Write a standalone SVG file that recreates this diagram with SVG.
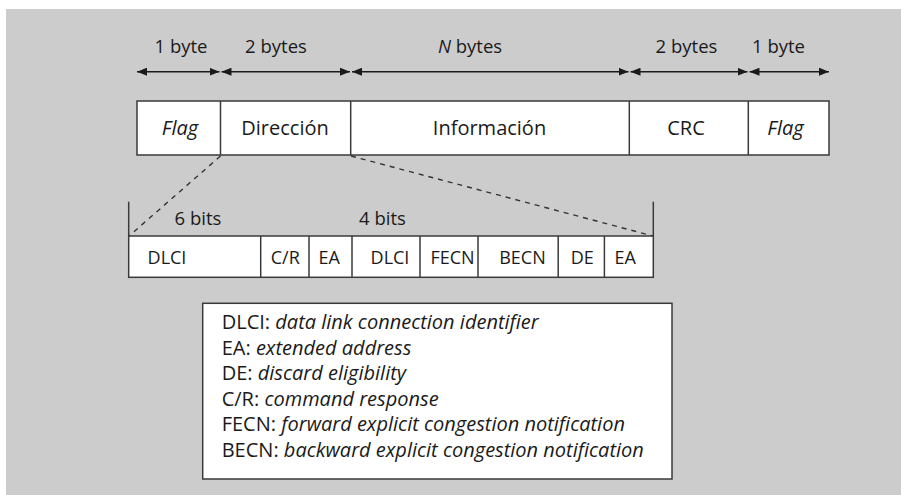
<svg xmlns="http://www.w3.org/2000/svg" width="901" height="495" viewBox="0 0 901 495">
  <defs>
    <style>
      text { font-family: "Open Sans", "Noto Sans", "Liberation Sans", sans-serif; fill: #1a1a1a; }
      .lbl { font-size: 18.5px; text-anchor: middle; }
      .cell { font-size: 18px; text-anchor: middle; }
      .big { font-size: 20px; }
      .leg { font-size: 20px; }
      .it { font-style: italic; }
      .box { fill: #ffffff; stroke: #3a3a3a; stroke-width: 1.5; }
      .div { stroke: #3a3a3a; stroke-width: 1.5; fill: none; }
      .dim { stroke: #1a1a1a; stroke-width: 1.4; fill: none; marker-start: url(#ah); marker-end: url(#ah); }
      .dash { stroke: #333333; stroke-width: 1.4; stroke-dasharray: 5 5; fill: none; }
    </style>
    <marker id="ah" viewBox="0 0 10 8" refX="10" refY="4" markerWidth="10" markerHeight="8" markerUnits="userSpaceOnUse" orient="auto-start-reverse">
      <path d="M0,0 L10,4 L0,8 Z" fill="#1a1a1a"/>
    </marker>
  </defs>

  <rect x="6" y="9" width="895" height="486" fill="#cccccc"/>

  <g id="dimensions">
    <line class="dim" x1="137" y1="71.7" x2="219.5" y2="71.7"/>
    <line class="dim" x1="221.5" y1="71.7" x2="350" y2="71.7"/>
    <line class="dim" x1="352" y1="71.7" x2="628.5" y2="71.7"/>
    <line class="dim" x1="630.5" y1="71.7" x2="747.5" y2="71.7"/>
    <line class="dim" x1="749.5" y1="71.7" x2="829" y2="71.7"/>
    <text class="lbl" x="181" y="53">1 byte</text>
    <text class="lbl" x="276" y="53">2 bytes</text>
    <text class="lbl" x="470" y="53"><tspan class="it">N</tspan> bytes</text>
    <text class="lbl" x="686.5" y="53">2 bytes</text>
    <text class="lbl" x="778.5" y="53">1 byte</text>
  </g>

  <g id="frame">
    <rect class="box" x="137" y="101" width="692" height="54"/>
    <line class="div" x1="220.5" y1="101" x2="220.5" y2="155"/>
    <line class="div" x1="350.7" y1="101" x2="350.7" y2="155"/>
    <line class="div" x1="629.3" y1="101" x2="629.3" y2="155"/>
    <line class="div" x1="748.3" y1="101" x2="748.3" y2="155"/>
    <text class="cell big it" x="180" y="135">Flag</text>
    <text class="cell big" x="285" y="135">Dirección</text>
    <text class="cell big" x="489.5" y="135">Información</text>
    <text class="cell big" x="686" y="135">CRC</text>
    <text class="cell big it" x="785.5" y="135">Flag</text>
  </g>

  <g id="connectors">
    <line class="dash" x1="220.5" y1="156" x2="129" y2="236"/>
    <line class="dash" x1="351" y1="156" x2="653" y2="236"/>
  </g>

  <g id="address">
    <line class="div" x1="128.7" y1="201.7" x2="128.7" y2="236"/>
    <line class="div" x1="653.3" y1="201.7" x2="653.3" y2="236"/>
    <rect class="box" x="128.7" y="236" width="524.6" height="41.3"/>
    <line class="div" x1="260.7" y1="236" x2="260.7" y2="277.3"/>
    <line class="div" x1="309" y1="236" x2="309" y2="277.3"/>
    <line class="div" x1="352" y1="236" x2="352" y2="277.3"/>
    <line class="div" x1="420" y1="236" x2="420" y2="277.3"/>
    <line class="div" x1="478" y1="236" x2="478" y2="277.3"/>
    <line class="div" x1="558.2" y1="236" x2="558.2" y2="277.3"/>
    <line class="div" x1="604.4" y1="236" x2="604.4" y2="277.3"/>
    <text class="lbl" x="198" y="225">6 bits</text>
    <text class="lbl" x="382.5" y="225">4 bits</text>
    <text class="cell" x="167" y="264">DLCI</text>
    <text class="cell" x="285.3" y="264">C/R</text>
    <text class="cell" x="329.2" y="264">EA</text>
    <text class="cell" x="390" y="264">DLCI</text>
    <text class="cell" x="452.5" y="264">FECN</text>
    <text class="cell" x="522.5" y="264">BECN</text>
    <text class="cell" x="582.3" y="264">DE</text>
    <text class="cell" x="625.2" y="264">EA</text>
  </g>

  <g id="legend">
    <rect class="box" x="202.7" y="303.3" width="469.3" height="175.7"/>
    <text class="leg" x="221.7" y="329.3">DLCI: <tspan class="it">data link connection identifier</tspan></text>
    <text class="leg" x="221.7" y="354.8">EA: <tspan class="it">extended address</tspan></text>
    <text class="leg" x="221.7" y="380.3">DE: <tspan class="it">discard eligibility</tspan></text>
    <text class="leg" x="221.7" y="405.8">C/R: <tspan class="it">command response</tspan></text>
    <text class="leg" x="221.7" y="431.3">FECN: <tspan class="it">forward explicit congestion notification</tspan></text>
    <text class="leg" x="221.7" y="456.8">BECN: <tspan class="it">backward explicit congestion notification</tspan></text>
  </g>
</svg>
